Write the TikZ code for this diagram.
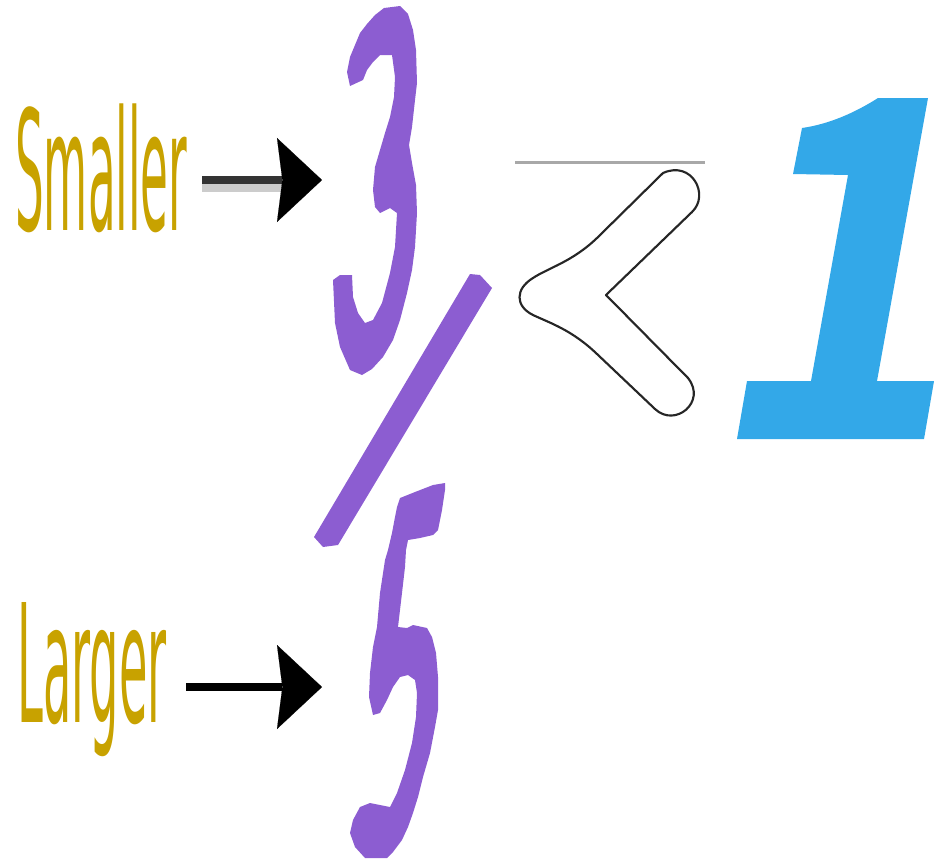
\documentclass[tikz,border=0pt]{standalone}
\usepackage{fontspec}
\setmainfont{DejaVu Sans}
\usepackage{graphicx}
\usetikzlibrary{arrows.meta}

\definecolor{labelgold}{HTML}{C8A200}
\definecolor{inkpurple}{HTML}{8C5DD1}
\definecolor{oneblue}{HTML}{33A8E8}
\definecolor{rulegray}{HTML}{A8A8A8}

\tikzset{
  label/.style={inner sep=0pt, anchor=base west, text=labelgold},
  pointer/.style={line width=6pt,
    -{Stealth[length=33.75pt, width=63pt, inset=4pt, line width=0.1pt, color=black]}},
  glyph/.style={fill=inkpurple},
}

\begin{document}
\begin{tikzpicture}[x=0.75pt, y=-0.75pt]
\useasboundingbox (0,0) rectangle (941,861);

% labels
\node[label] (smaller) at (15,230) {\resizebox{129pt}{95pt}{Smaller}};
\node[label] (larger)  at (17,722) {\resizebox{112pt}{90pt}{Larger}};

% arrow ends
\coordinate (smstart) at (202,180);
\coordinate (smend)   at (322,180);
\coordinate (lgstart) at (186,687);
\coordinate (lgend)   at (322,687);

% arrow into the numerator, with its pale shadow
\draw[line width=6pt, black!20] ([yshift=-6pt]smstart) -- ([yshift=-6pt,xshift=-24pt]smend);
\draw[pointer, draw=black!80] (smstart) -- (smend);
% arrow into the denominator
\draw[pointer, draw=black] (lgstart) -- (lgend);

% numerator 3
\fill[glyph] (350,86) -- (347,72) -- (350,57) -- (355,45) -- (360,33) -- (367,24)
  -- (375,15) -- (384,8) -- (400,6) -- (408,14) -- (413,30) -- (416,50) -- (417,83)
  -- (415,100) -- (412,127) -- (409,145) -- (412,163) -- (416,185) -- (417,213)
  -- (415,247) -- (412,270) -- (407,293) -- (400,320) -- (393,340) -- (383,357)
  -- (372,369) -- (362,375) -- (350,370) -- (340,347) -- (335,323) -- (333,280)
  -- (340,275) -- (352,275) -- (353,297) -- (358,313) -- (365,323) -- (373,320)
  -- (382,303) -- (390,273) -- (395,247) -- (397,213) -- (390,208) -- (380,213)
  -- (375,207) -- (373,190) -- (375,167) -- (380,150) -- (385,133) -- (390,117)
  -- (394,97) -- (395,77) -- (392,55) -- (380,55) -- (373,62) -- (367,70)
  -- (363,80) -- cycle;

% fraction bar
\fill[glyph] (470,274) -- (480,275) -- (492,288) -- (338,545) -- (323,547)
  -- (314,537) -- cycle;

% denominator 5
\fill[glyph] (400,498) -- (415,492) -- (433,485) -- (445,483) -- (445,490)
  -- (442,510) -- (438,530) -- (433,535) -- (420,538) -- (408,540) -- (406,550)
  -- (405,567) -- (402,593) -- (398,627) -- (407,628) -- (413,625) -- (427,628)
  -- (432,637) -- (436,653) -- (438,677) -- (438,710) -- (435,727) -- (430,753)
  -- (423,777) -- (418,797) -- (413,813) -- (408,827) -- (402,840) -- (393,852)
  -- (387,858) -- (365,858) -- (355,847) -- (350,833) -- (353,820) -- (360,807)
  -- (370,803) -- (390,807) -- (397,793) -- (405,770) -- (412,743) -- (416,717)
  -- (417,693) -- (415,680) -- (408,675) -- (400,677) -- (393,687) -- (387,700)
  -- (380,713) -- (373,715) -- (369,697) -- (370,673) -- (373,647) -- (377,627)
  -- (380,593) -- (385,560) -- (388,550) -- (392,533) -- (395,517) -- (397,507)
  -- cycle;

% rule above the sign
\draw[rulegray, line width=2.25pt] (515,162) -- (705,162);

% outlined less-than sign
\draw[line width=1.6pt, black!85, line join=round]
  (606,295) -- (692,212)
  .. controls (710,195) and (692,160) .. (663,173)
  -- (597,238)
  .. controls (572,262) and (548,268) .. (533,278)
  .. controls (515,289) and (515,306) .. (533,315)
  .. controls (550,323) and (572,330) .. (597,354)
  -- (655,409)
  .. controls (675,428) and (707,402) .. (688,378)
  -- cycle;

% bold italic one
\fill[oneblue] (878,98) -- (928,98) -- (877,381) -- (934,381) -- (924,439)
  -- (737,439) -- (747,381) -- (811,381) -- (848,175) -- (793,174) -- (802,128)
  .. controls (830,124) and (856,112) .. (878,98) -- cycle;

\end{tikzpicture}
\end{document}
